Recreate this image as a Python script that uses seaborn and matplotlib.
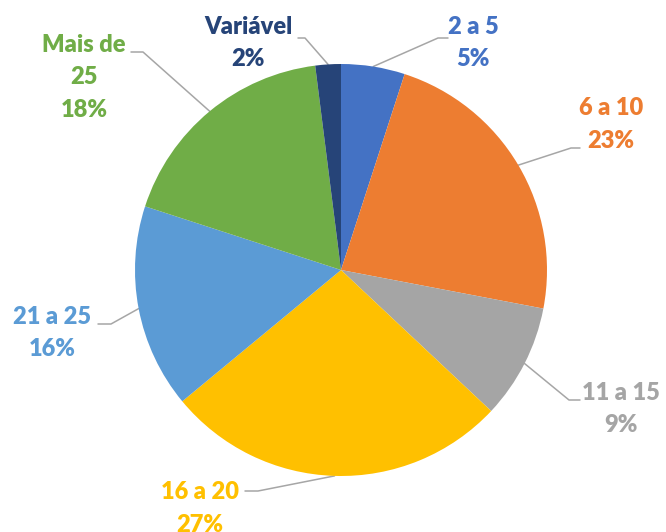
import numpy as np
import matplotlib.pyplot as plt
import seaborn as sns

# Data
categories = ['2 a 5', '6 a 10', '11 a 15', '16 a 20', '21 a 25', 'Mais de\n25', 'Variável']
shares = [5, 23, 9, 27, 16, 18, 2]
colors = ['#4472C4', '#ED7D31', '#A5A5A5', '#FFC000', '#5B9BD5', '#70AD47', '#264478']

sns.set_theme(style='white')
plt.rcParams['font.family'] = ['Lato', 'DejaVu Sans']

W, H = 666, 532
fig = plt.figure(figsize=(W / 100, H / 100), dpi=100)
ax = fig.add_axes([0, 0, 1, 1])

cx, cy, r = 341, H - 270, 206
ax.pie(shares, colors=colors, startangle=90, counterclock=False,
       center=(cx, cy), radius=r, wedgeprops=dict(linewidth=0))
ax.set_xlim(0, W)
ax.set_ylim(0, H)
ax.axis('off')

# label layout: (elbow x, elbow y, line end x, text x, text top y) in pixel coords (y from top)
layout = {
    '2 a 5':       (438, 38, 448, 473, 27),
    '6 a 10':      (571, 148, 580, 611, 108),
    '11 a 15':     (569, 400, 580, 621, 393),
    '16 a 20':     (258, 491, 245, 200, 492),
    '21 a 25':     (111, 324, 98, 52, 317),
    'Mais de\n25': (143, 52, 131, 84, 45),
    'Variável':    (305, 38, 298, 248, 27),
}

cum = np.cumsum([0] + shares[:-1])
for cat, s, c0, col in zip(categories, shares, cum, colors):
    mid = np.deg2rad((c0 + s / 2) * 3.6)
    ax_, ay_ = cx + r * np.sin(mid), cy + r * np.cos(mid)
    ex, ey, lx, tx, ty = layout[cat]
    ax.plot([ax_, ex, lx], [ay_, H - ey, H - ey], color='#A6A6A6', lw=1.1, zorder=0.5)
    lines = cat.split('\n') + [f'{s}%']
    for i, t in enumerate(lines):
        ax.text(tx, H - ty - i * 32.5, t, color=col, fontsize=17, fontweight='heavy',
                ha='center', va='center')

fig.savefig('out.png', dpi=100)
